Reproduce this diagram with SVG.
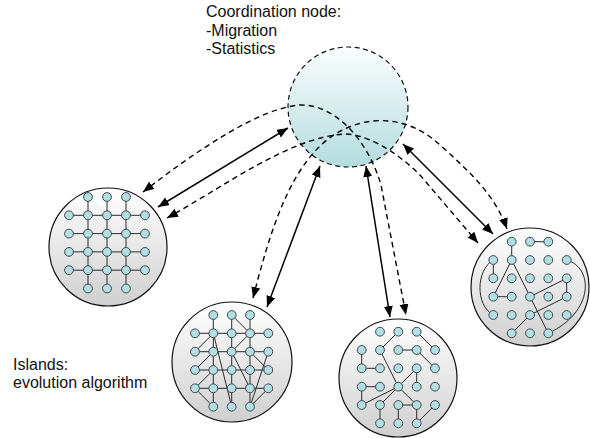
<svg xmlns="http://www.w3.org/2000/svg" xmlns:xlink="http://www.w3.org/1999/xlink" width="590" height="438" viewBox="0 0 590 438">
<style>
.lbl{font-family:"Liberation Sans",Arial,Helvetica,sans-serif;font-size:16px;fill:#111}
.isl{fill:url(#gIsl);stroke:#111;stroke-width:1.2}
.crd{fill:url(#gCrd);stroke:#111;stroke-width:1.2;stroke-dasharray:5 3.5}
.nd{fill:#b3dfe2;stroke:#3c4a4c;stroke-width:1}
.ed{fill:none;stroke:#2a2a2a;stroke-width:1}
.sol{fill:none;stroke:#000;stroke-width:1.5;marker-start:url(#ah);marker-end:url(#ah)}
.dsh{fill:none;stroke:#000;stroke-width:1.4;stroke-dasharray:5.5 4;marker-start:url(#ah);marker-end:url(#ah)}
</style>
<defs>
<linearGradient id="gIsl" x1="0" y1="0" x2="0" y2="1">
<stop offset="0" stop-color="#ffffff"/>
<stop offset="1" stop-color="#cfcfcf"/>
</linearGradient>
<linearGradient id="gCrd" x1="0" y1="0" x2="0" y2="1">
<stop offset="0" stop-color="#fbfdfd"/>
<stop offset="1" stop-color="#b3dcdf"/>
</linearGradient>
<marker id="ah" markerUnits="userSpaceOnUse" markerWidth="12" markerHeight="10" refX="11" refY="4.5" orient="auto-start-reverse">
<path d="M0,0 L11,4.5 L0,9 z" fill="#000"/>
</marker>
</defs>

<g id="coord">
<circle class="crd" cx="348" cy="107" r="60"/>
<text class="lbl" x="206" y="17">Coordination node:</text>
<text class="lbl" x="206" y="35.5">-Migration</text>
<text class="lbl" x="206" y="54">-Statistics</text>
</g>

<g id="island1">
<circle class="isl" cx="108" cy="247" r="59"/>
<path class="ed" d="M69,215.3H145M69,233.6H145M69,251.9H145M69,270.2H145M88,197V288.5M107,197V288.5M126,197V288.5"/>
<circle class="nd" cx="88" cy="197" r="4.4"/><circle class="nd" cx="107" cy="197" r="4.4"/><circle class="nd" cx="126" cy="197" r="4.4"/>
<circle class="nd" cx="69" cy="215.3" r="4.4"/><circle class="nd" cx="88" cy="215.3" r="4.4"/><circle class="nd" cx="107" cy="215.3" r="4.4"/><circle class="nd" cx="126" cy="215.3" r="4.4"/><circle class="nd" cx="145" cy="215.3" r="4.4"/>
<circle class="nd" cx="69" cy="233.6" r="4.4"/><circle class="nd" cx="88" cy="233.6" r="4.4"/><circle class="nd" cx="107" cy="233.6" r="4.4"/><circle class="nd" cx="126" cy="233.6" r="4.4"/><circle class="nd" cx="145" cy="233.6" r="4.4"/>
<circle class="nd" cx="69" cy="251.9" r="4.4"/><circle class="nd" cx="88" cy="251.9" r="4.4"/><circle class="nd" cx="107" cy="251.9" r="4.4"/><circle class="nd" cx="126" cy="251.9" r="4.4"/><circle class="nd" cx="145" cy="251.9" r="4.4"/>
<circle class="nd" cx="69" cy="270.2" r="4.4"/><circle class="nd" cx="88" cy="270.2" r="4.4"/><circle class="nd" cx="107" cy="270.2" r="4.4"/><circle class="nd" cx="126" cy="270.2" r="4.4"/><circle class="nd" cx="145" cy="270.2" r="4.4"/>
<circle class="nd" cx="88" cy="288.5" r="4.4"/><circle class="nd" cx="107" cy="288.5" r="4.4"/><circle class="nd" cx="126" cy="288.5" r="4.4"/>
</g>

<g id="island2">
<circle class="isl" cx="232" cy="362" r="60"/>
<path class="ed" d="M195,333.3H268.3M195,351.7H268.3M195,370H268.3M195,388.3H268.3M213.3,315V406.7M231.7,315V406.7M250,315V406.7
M231.7,315L250,333.3M213.3,333.3L195,351.7M213.3,351.7L195,370M213.3,370L195,388.3M250,333.3L231.7,351.7M195,388.3L213.3,406.7M250,406.7L268.3,388.3
M213.3,333.3L231.7,406.7M268.3,351.7L250,406.7M231.7,351.7L250,388.3M250,351.7L268.3,370"/>
<circle class="nd" cx="213.3" cy="315" r="4.4"/><circle class="nd" cx="231.7" cy="315" r="4.4"/><circle class="nd" cx="250" cy="315" r="4.4"/>
<circle class="nd" cx="195" cy="333.3" r="4.4"/><circle class="nd" cx="213.3" cy="333.3" r="4.4"/><circle class="nd" cx="231.7" cy="333.3" r="4.4"/><circle class="nd" cx="250" cy="333.3" r="4.4"/><circle class="nd" cx="268.3" cy="333.3" r="4.4"/>
<circle class="nd" cx="195" cy="351.7" r="4.4"/><circle class="nd" cx="213.3" cy="351.7" r="4.4"/><circle class="nd" cx="231.7" cy="351.7" r="4.4"/><circle class="nd" cx="250" cy="351.7" r="4.4"/><circle class="nd" cx="268.3" cy="351.7" r="4.4"/>
<circle class="nd" cx="195" cy="370" r="4.4"/><circle class="nd" cx="213.3" cy="370" r="4.4"/><circle class="nd" cx="231.7" cy="370" r="4.4"/><circle class="nd" cx="250" cy="370" r="4.4"/><circle class="nd" cx="268.3" cy="370" r="4.4"/>
<circle class="nd" cx="195" cy="388.3" r="4.4"/><circle class="nd" cx="213.3" cy="388.3" r="4.4"/><circle class="nd" cx="231.7" cy="388.3" r="4.4"/><circle class="nd" cx="250" cy="388.3" r="4.4"/><circle class="nd" cx="268.3" cy="388.3" r="4.4"/>
<circle class="nd" cx="213.3" cy="406.7" r="4.4"/><circle class="nd" cx="231.7" cy="406.7" r="4.4"/><circle class="nd" cx="250" cy="406.7" r="4.4"/>
</g>

<g id="island3">
<circle class="isl" cx="398" cy="378" r="59"/>
<path class="ed" d="M398.3,331.7L380,350M416.7,331.7L435,350M398.3,350H416.7M361.7,350V368.3M361.7,368.3H380M380,350L398.3,386.7
M398.3,386.7L416.7,368.3M398.3,386.7L361.7,405M398.3,386.7L416.7,405M398.3,386.7L380,405M416.7,368.3V386.7M416.7,350L435,368.3
M361.7,386.7H380M361.7,386.7V405M398.3,405H416.7M380,405V423.3M398.3,405V423.3M435,405L416.7,423.3M416.7,405V423.3"/>
<circle class="nd" cx="380" cy="331.7" r="4.4"/><circle class="nd" cx="398.3" cy="331.7" r="4.4"/><circle class="nd" cx="416.7" cy="331.7" r="4.4"/>
<circle class="nd" cx="361.7" cy="350" r="4.4"/><circle class="nd" cx="380" cy="350" r="4.4"/><circle class="nd" cx="398.3" cy="350" r="4.4"/><circle class="nd" cx="416.7" cy="350" r="4.4"/><circle class="nd" cx="435" cy="350" r="4.4"/>
<circle class="nd" cx="361.7" cy="368.3" r="4.4"/><circle class="nd" cx="380" cy="368.3" r="4.4"/><circle class="nd" cx="398.3" cy="368.3" r="4.4"/><circle class="nd" cx="416.7" cy="368.3" r="4.4"/><circle class="nd" cx="435" cy="368.3" r="4.4"/>
<circle class="nd" cx="361.7" cy="386.7" r="4.4"/><circle class="nd" cx="380" cy="386.7" r="4.4"/><circle class="nd" cx="398.3" cy="386.7" r="4.4"/><circle class="nd" cx="416.7" cy="386.7" r="4.4"/><circle class="nd" cx="435" cy="386.7" r="4.4"/>
<circle class="nd" cx="361.7" cy="405" r="4.4"/><circle class="nd" cx="380" cy="405" r="4.4"/><circle class="nd" cx="398.3" cy="405" r="4.4"/><circle class="nd" cx="416.7" cy="405" r="4.4"/><circle class="nd" cx="435" cy="405" r="4.4"/>
<circle class="nd" cx="380" cy="423.3" r="4.4"/><circle class="nd" cx="398.3" cy="423.3" r="4.4"/><circle class="nd" cx="416.7" cy="423.3" r="4.4"/>
</g>

<g id="island4">
<circle class="isl" cx="530" cy="287" r="59"/>
<path class="ed" d="M530,241.7H548.3M511.7,241.7V260M493.3,260V278.3M493.3,260C476,270 475,305 493.3,315M511.7,260L493.3,296.7M493.3,296.7H511.7
M511.7,260L530,296.7M530,296.7L566.7,278.3M530,296.7L548.3,333.3M566.7,278.3V296.7M530,315L566.7,296.7M530,315L511.7,333.3
M566.7,260C594,268 594,312 548.3,333.3"/>
<circle class="nd" cx="511.7" cy="241.7" r="4.4"/><circle class="nd" cx="530" cy="241.7" r="4.4"/><circle class="nd" cx="548.3" cy="241.7" r="4.4"/>
<circle class="nd" cx="493.3" cy="260" r="4.4"/><circle class="nd" cx="511.7" cy="260" r="4.4"/><circle class="nd" cx="530" cy="260" r="4.4"/><circle class="nd" cx="548.3" cy="260" r="4.4"/><circle class="nd" cx="566.7" cy="260" r="4.4"/>
<circle class="nd" cx="493.3" cy="278.3" r="4.4"/><circle class="nd" cx="511.7" cy="278.3" r="4.4"/><circle class="nd" cx="530" cy="278.3" r="4.4"/><circle class="nd" cx="548.3" cy="278.3" r="4.4"/><circle class="nd" cx="566.7" cy="278.3" r="4.4"/>
<circle class="nd" cx="493.3" cy="296.7" r="4.4"/><circle class="nd" cx="511.7" cy="296.7" r="4.4"/><circle class="nd" cx="530" cy="296.7" r="4.4"/><circle class="nd" cx="548.3" cy="296.7" r="4.4"/><circle class="nd" cx="566.7" cy="296.7" r="4.4"/>
<circle class="nd" cx="493.3" cy="315" r="4.4"/><circle class="nd" cx="511.7" cy="315" r="4.4"/><circle class="nd" cx="530" cy="315" r="4.4"/><circle class="nd" cx="548.3" cy="315" r="4.4"/><circle class="nd" cx="566.7" cy="315" r="4.4"/>
<circle class="nd" cx="511.7" cy="333.3" r="4.4"/><circle class="nd" cx="530" cy="333.3" r="4.4"/><circle class="nd" cx="548.3" cy="333.3" r="4.4"/>
</g>

<g id="islands-label">
<text class="lbl" x="13" y="370">Islands:</text>
<text class="lbl" x="13" y="388">evolution algorithm</text>
</g>

<g id="connectors">
<path class="sol" d="M158,207L288,128"/>
<path class="sol" d="M267,307L320,166"/>
<path class="sol" d="M390,317L366,166"/>
<path class="sol" d="M493,234L403,144"/>
<path class="dsh" d="M143,192C200,148 260,108 300,105C335,104 368,140 381,185L406,315"/>
<path class="dsh" d="M167,218C225,186 290,137 345,134C365,134 395,150 420,175L478,243"/>
<path class="dsh" d="M253,298C268,240 285,180 320,146C350,117 400,108 440,145C470,172 495,195 507,229"/>
</g>
</svg>
